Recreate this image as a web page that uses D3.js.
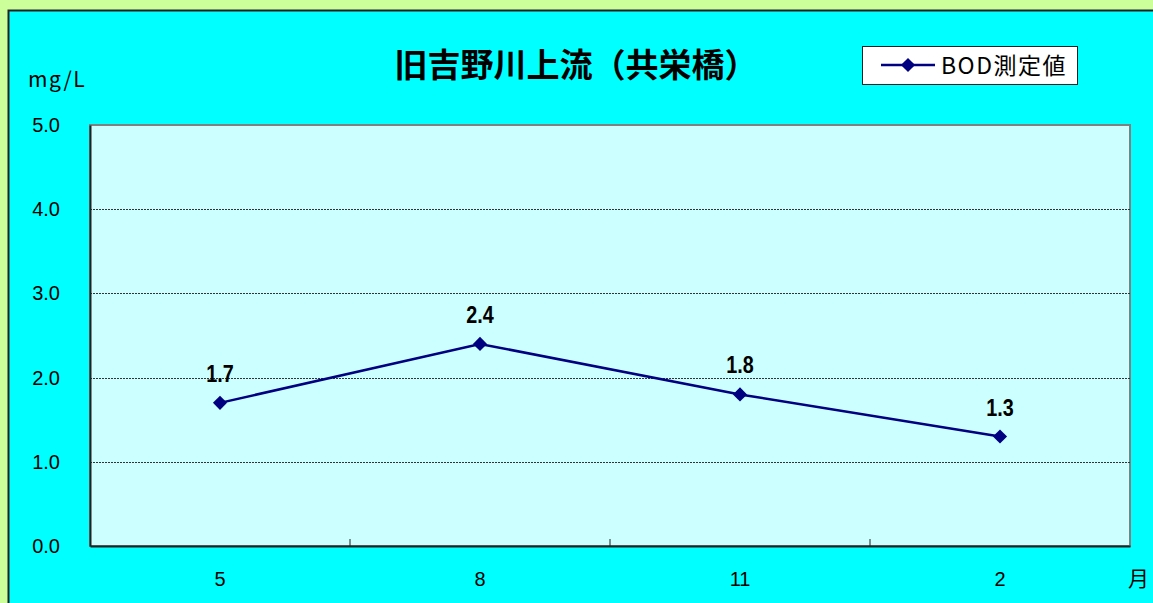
<!DOCTYPE html>
<html><head><meta charset="utf-8">
<script src="https://cdn.jsdelivr.net/npm/d3@7"></script>
<style>
html,body{margin:0;padding:0;background:#CCFF99;}
svg{display:block;}
text{font-family:"Liberation Sans",Arial,sans-serif;}
.jp{font-family:"Noto Sans CJK JP","Noto Sans",sans-serif;}
</style></head><body>
<script>
const months = ["5","8","11","2"];
const bodValues = [1.7, 2.4, 1.8, 1.3];
const yTicks = [0,1,2,3,4,5];
const titleText = "旧吉野川上流（共栄橋）";
const seriesName = "BOD測定値";
const unitLabel = "mg/L";
const xUnitLabel = "月";

const W = 1153, H = 603;
const svg = d3.select("body").append("svg").attr("width", W).attr("height", H);

// chart area
svg.append("rect").attr("x",0).attr("y",0).attr("width",W).attr("height",H).attr("fill","#CCFF99");
svg.append("rect").attr("x",8.5).attr("y",10.5).attr("width",1300).attr("height",800)
  .attr("fill","#00FFFF").attr("stroke","#222").attr("stroke-width",2);

const plot = {l:90, r:1130, t:125, b:546};
const x = d3.scaleBand().domain(months).range([plot.l, plot.r]);
const y = d3.scaleLinear().domain([0,5]).range([plot.b, plot.t]);

// plot area
svg.append("rect").attr("x",plot.l).attr("y",plot.t).attr("width",plot.r-plot.l).attr("height",plot.b-plot.t)
  .attr("fill","#CCFFFF").attr("stroke","#808080").attr("stroke-width",2);

// gridlines
svg.append("g").selectAll("line").data(yTicks.filter(d=>d>0 && d<5)).join("line")
  .attr("x1",plot.l).attr("x2",plot.r).attr("y1",d=>Math.round(y(d))+0.5).attr("y2",d=>Math.round(y(d))+0.5)
  .attr("stroke","#333").attr("stroke-width",1).attr("stroke-dasharray","2,1");

// y axis
const yAxis = svg.append("g").attr("transform",`translate(${plot.l},0)`)
  .call(d3.axisLeft(y).tickValues(yTicks).tickFormat(d3.format(".1f")).tickSize(0).tickPadding(30));
yAxis.attr("font-size",20).attr("font-family","Liberation Sans, Arial, sans-serif");
yAxis.select(".domain").attr("stroke","#222").attr("stroke-width",2);
yAxis.selectAll("text").attr("fill","#000");

// x axis
const xAxis = svg.append("g").attr("transform",`translate(0,${plot.b})`)
  .call(d3.axisBottom(x).tickSize(0).tickPadding(26));
xAxis.attr("font-size",20).attr("font-family","Liberation Sans, Arial, sans-serif");
xAxis.select(".domain").attr("stroke","#222").attr("stroke-width",2);
xAxis.selectAll("text").attr("fill","#000");
// tick marks between categories (inward)
svg.append("g").selectAll("line").data(months.slice(1)).join("line")
  .attr("x1",d=>x(d)).attr("x2",d=>x(d)).attr("y1",plot.b).attr("y2",plot.b-7)
  .attr("stroke","#222").attr("stroke-width",1);

// line
const cx = d => x(d) + x.bandwidth()/2;
const data = months.map((m,i)=>({m, v:bodValues[i]}));
svg.append("path").datum(data)
  .attr("d", d3.line().x(d=>cx(d.m)).y(d=>y(d.v)))
  .attr("fill","none").attr("stroke","#000080").attr("stroke-width",2.5);

svg.append("g").selectAll("path").data(data).join("path")
  .attr("d", d3.symbol().type(d3.symbolSquare).size(100)())
  .attr("transform",d=>`translate(${cx(d.m)},${y(d.v)}) rotate(45)`)
  .attr("fill","#000080");

// data labels
svg.append("g").selectAll("text").data(data).join("text")
  .attr("transform",d=>`translate(${cx(d.m)},${y(d.v)-21}) scale(0.86,1)`)
  .attr("text-anchor","middle").attr("font-size",23).attr("font-weight","bold")
  .text(d=>d.v.toFixed(1));

// title
svg.append("text").attr("class","jp").attr("x",576).attr("y",77).attr("text-anchor","middle")
  .attr("font-size",33).attr("font-weight","bold").text(titleText);

// unit labels
svg.append("text").attr("class","jp").attr("x",28).attr("y",87).attr("font-size",21)
  .attr("letter-spacing",1.5).text(unitLabel);
svg.append("text").attr("class","jp").attr("x",1128).attr("y",586).attr("font-size",21).text(xUnitLabel);

// legend
const lg = svg.append("g");
lg.append("rect").attr("x",862.5).attr("y",46.5).attr("width",215).attr("height",38)
  .attr("fill","#fff").attr("stroke","#222").attr("stroke-width",1);
lg.append("line").attr("x1",881).attr("x2",935).attr("y1",65).attr("y2",65).attr("stroke","#000080").attr("stroke-width",2.5);
lg.append("path").attr("d", d3.symbol().type(d3.symbolSquare).size(100)())
  .attr("transform","translate(908,65) rotate(45)").attr("fill","#000080");
lg.append("text").attr("class","jp").attr("x",941).attr("y",74).attr("font-size",23)
  .attr("letter-spacing",1.5).text(seriesName);
</script>
</body></html>
